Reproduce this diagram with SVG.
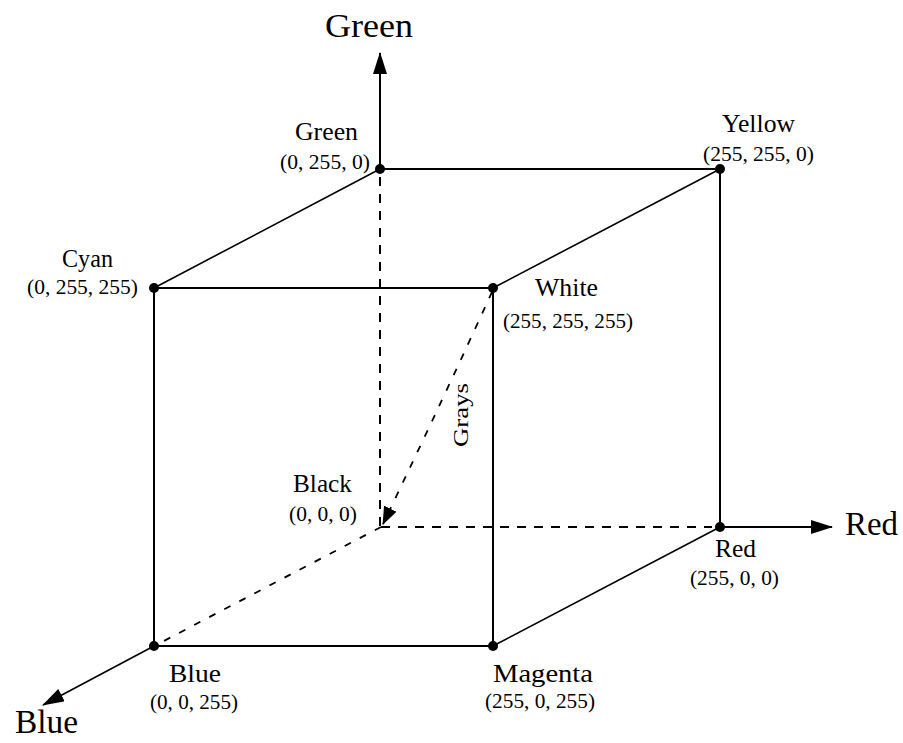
<svg xmlns="http://www.w3.org/2000/svg" width="903" height="743" viewBox="0 0 903 743">
<style>
text{font-family:"Liberation Serif","Times New Roman",serif;fill:#000}
.ax{font-size:34px}
.nm{font-size:25px}
.co{font-size:21px}
.edge{stroke:#000;stroke-width:2;fill:none}
.diag{stroke:#000;stroke-width:1.6;fill:none}
.dash{stroke:#000;stroke-width:2;fill:none;stroke-dasharray:9 8}
.dash2{stroke:#000;stroke-width:1.8;fill:none;stroke-dasharray:7 10}
.dot{fill:#000}
</style>
<defs>
<marker id="arr" markerUnits="userSpaceOnUse" viewBox="0 0 22 14" markerWidth="22" markerHeight="14" refX="21" refY="7" orient="auto">
<path d="M0,0 L22,7 L0,14 Z" fill="#000"/>
</marker>
<marker id="arrs" markerUnits="userSpaceOnUse" viewBox="0 0 18 14" markerWidth="18" markerHeight="14" refX="17" refY="7" orient="auto">
<path d="M0,0 L18,7 L0,14 Z" fill="#000"/>
</marker>
</defs>
<rect width="903" height="743" fill="#fff"/>
<g id="connectors">
<line class="edge" x1="380" y1="169" x2="380" y2="53" marker-end="url(#arr)"/>
<line class="edge" x1="720" y1="527" x2="832" y2="527" marker-end="url(#arr)"/>
<line class="diag" x1="154" y1="646" x2="43" y2="705" marker-end="url(#arr)"/>
<line class="edge" x1="380" y1="169" x2="720" y2="169"/>
<line class="edge" x1="720" y1="169" x2="720" y2="527"/>
<line class="edge" x1="154" y1="288" x2="493" y2="288"/>
<line class="edge" x1="154" y1="288" x2="154" y2="646"/>
<line class="edge" x1="493" y1="288" x2="493" y2="646"/>
<line class="edge" x1="154" y1="646" x2="493" y2="646"/>
<line class="diag" x1="380" y1="169" x2="154" y2="288"/>
<line class="diag" x1="720" y1="169" x2="493" y2="288"/>
<line class="diag" x1="720" y1="527" x2="493" y2="646"/>
<line class="dash" x1="380" y1="177" x2="380" y2="527"/>
<line class="dash" x1="381" y1="527" x2="712" y2="527"/>
<line class="dash2" x1="381" y1="527" x2="160" y2="643"/>
<path class="dash2" d="M492,292 Q445,395 383,524" marker-end="url(#arrs)"/>
</g>
<g id="axis-green"><text class="ax" x="325" y="37" textLength="88" lengthAdjust="spacingAndGlyphs">Green</text></g>
<g id="axis-red"><text class="ax" x="845" y="535" textLength="53" lengthAdjust="spacingAndGlyphs">Red</text></g>
<g id="axis-blue"><text class="ax" x="15" y="733" textLength="63" lengthAdjust="spacingAndGlyphs">Blue</text></g>
<g id="node-green">
<circle class="dot" cx="380" cy="169" r="5"/>
<text class="nm" x="295" y="140" textLength="63" lengthAdjust="spacingAndGlyphs">Green</text>
<text class="co" x="280" y="169" textLength="90" lengthAdjust="spacingAndGlyphs">(0, 255, 0)</text>
</g>
<g id="node-yellow">
<circle class="dot" cx="720" cy="169" r="5"/>
<text class="nm" x="722" y="132" textLength="73" lengthAdjust="spacingAndGlyphs">Yellow</text>
<text class="co" x="703" y="161" textLength="111" lengthAdjust="spacingAndGlyphs">(255, 255, 0)</text>
</g>
<g id="node-cyan">
<circle class="dot" cx="154" cy="288" r="5"/>
<text class="nm" x="62" y="267" textLength="51" lengthAdjust="spacingAndGlyphs">Cyan</text>
<text class="co" x="27" y="294" textLength="111" lengthAdjust="spacingAndGlyphs">(0, 255, 255)</text>
</g>
<g id="node-white">
<circle class="dot" cx="493" cy="288" r="5"/>
<text class="nm" x="535" y="296" textLength="63" lengthAdjust="spacingAndGlyphs">White</text>
<text class="co" x="503" y="328" textLength="130" lengthAdjust="spacingAndGlyphs">(255, 255, 255)</text>
</g>
<g id="node-black">
<text class="nm" x="293" y="492" textLength="59" lengthAdjust="spacingAndGlyphs">Black</text>
<text class="co" x="289" y="521" textLength="68" lengthAdjust="spacingAndGlyphs">(0, 0, 0)</text>
</g>
<g id="node-red">
<circle class="dot" cx="720" cy="527" r="5"/>
<text class="nm" x="715" y="557" textLength="41" lengthAdjust="spacingAndGlyphs">Red</text>
<text class="co" x="690" y="585" textLength="89" lengthAdjust="spacingAndGlyphs">(255, 0, 0)</text>
</g>
<g id="node-blue">
<circle class="dot" cx="154" cy="646" r="5"/>
<text class="nm" x="169" y="682" textLength="52" lengthAdjust="spacingAndGlyphs">Blue</text>
<text class="co" x="150" y="709" textLength="88" lengthAdjust="spacingAndGlyphs">(0, 0, 255)</text>
</g>
<g id="node-magenta">
<circle class="dot" cx="493" cy="646" r="5"/>
<text class="nm" x="493" y="682" textLength="100" lengthAdjust="spacingAndGlyphs">Magenta</text>
<text class="co" x="485" y="708" textLength="110" lengthAdjust="spacingAndGlyphs">(255, 0, 255)</text>
</g>
<g id="label-grays">
<text class="co" x="468" y="447" transform="rotate(-90 468 447)" textLength="64" lengthAdjust="spacingAndGlyphs">Grays</text>
</g>
</svg>
